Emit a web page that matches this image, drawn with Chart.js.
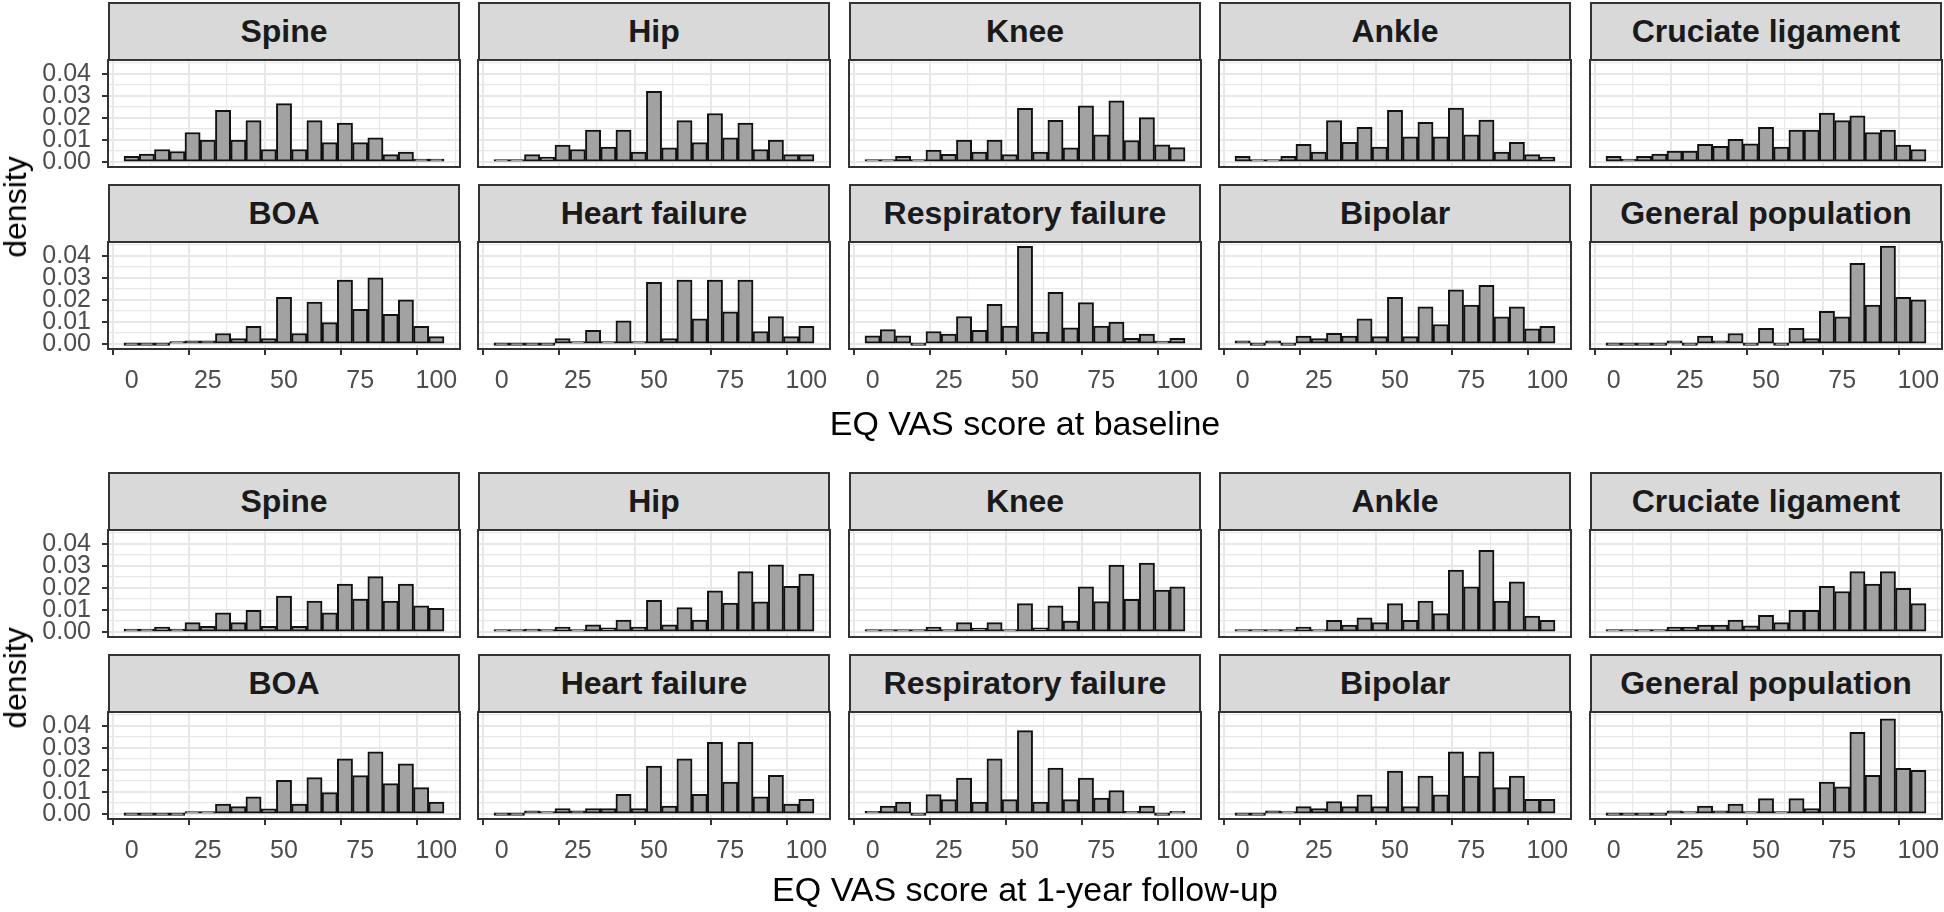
<!DOCTYPE html>
<html>
<head>
<meta charset="utf-8">
<script src="https://cdn.jsdelivr.net/npm/chart.js@4.4.1/dist/chart.umd.min.js"></script>
<style>
    body {
        margin: 0;
        width: 1944px;
        height: 912px;
        overflow: hidden;
        position: relative;
        background: #fff;
        font-family: "Liberation Sans", Arial, sans-serif;
    }
    canvas { position: absolute; }
    .strip {
        position: absolute;
        box-sizing: border-box;
        background: #d9d9d9;
        border: 2px solid #333;
        display: flex;
        align-items: center;
        justify-content: center;
        font-weight: bold;
        font-size: 32px;
        color: #1a1a1a;
        white-space: nowrap;
    }
    .xtitle {
        position: absolute;
        font-size: 34px;
        line-height: 34px;
        color: #000;
        white-space: nowrap;
        transform: translateX(-50%);
    }
    .ytitle {
        position: absolute;
        font-size: 32px;
        line-height: 32px;
        color: #000;
        white-space: nowrap;
        transform: translate(-50%, -50%) rotate(-90deg);
    }
</style>
</head>
<body>
<script>
// Bin centres (bin width 5) and axis ticks
const binCenters = [0, 5, 10, 15, 20, 25, 30, 35, 40, 45, 50, 55, 60, 65, 70, 75, 80, 85, 90, 95, 100];
const xMajorTicks = [0, 25, 50, 75, 100];
const xMinorTicks = [12.5, 37.5, 62.5, 87.5];
const yMajorTicks = [0, 0.01, 0.02, 0.03, 0.04];
const yTickLabels = ['0.00', '0.01', '0.02', '0.03', '0.04'];
const yMinorTicks = [0.005, 0.015, 0.025, 0.035, 0.045];

const facetNames = ['Spine', 'Hip', 'Knee', 'Ankle', 'Cruciate ligament',
    'BOA', 'Heart failure', 'Respiratory failure', 'Bipolar', 'General population'];
const xTitles = ['EQ VAS score at baseline', 'EQ VAS score at 1-year follow-up'];
const yTitle = 'density';

// Density per bin at baseline
const baseSpine = [0.0026, 0.0037, 0.0057, 0.0048, 0.0134, 0.0100, 0.0234, 0.0100, 0.0188, 0.0057, 0.0265, 0.0057, 0.0188, 0.0088, 0.0177, 0.0088, 0.0110, 0.0034, 0.0046, 0.0014, 0.0014];
const baseHip = [0.0010, 0.0010, 0.0034, 0.0023, 0.0077, 0.0057, 0.0145, 0.0068, 0.0145, 0.0045, 0.0320, 0.0065, 0.0188, 0.0088, 0.0220, 0.0110, 0.0177, 0.0057, 0.0100, 0.0034, 0.0034];
const baseKnee = [0.0009, 0.0009, 0.0026, 0.0009, 0.0054, 0.0035, 0.0100, 0.0045, 0.0100, 0.0034, 0.0243, 0.0045, 0.0189, 0.0065, 0.0255, 0.0123, 0.0277, 0.0098, 0.0201, 0.0078, 0.0066];
const baseAnkle = [0.0026, 0.0010, 0.0010, 0.0026, 0.0080, 0.0046, 0.0188, 0.0090, 0.0157, 0.0068, 0.0234, 0.0114, 0.0180, 0.0114, 0.0245, 0.0123, 0.0190, 0.0046, 0.0090, 0.0034, 0.0023];
const baseCruciate = [0.0026, 0.0014, 0.0026, 0.0037, 0.0050, 0.0050, 0.0080, 0.0072, 0.0103, 0.0083, 0.0157, 0.0068, 0.0145, 0.0145, 0.0222, 0.0188, 0.0210, 0.0134, 0.0145, 0.0077, 0.0057];
const baseBOA = [0, 0, 0, 0.0003, 0.0015, 0.0015, 0.0048, 0.0025, 0.0080, 0.0025, 0.0212, 0.0048, 0.0190, 0.0097, 0.0290, 0.0158, 0.0300, 0.0135, 0.0200, 0.0080, 0.0034];
const baseHeart = [0, 0, 0, 0, 0.0025, 0.0012, 0.0062, 0.0012, 0.0105, 0.0012, 0.0280, 0.0025, 0.0290, 0.0115, 0.0290, 0.0146, 0.0290, 0.0057, 0.0125, 0.0034, 0.0080];
const baseResp = [0.0038, 0.0066, 0.0038, 0, 0.0057, 0.0046, 0.0125, 0.0063, 0.0180, 0.0082, 0.0442, 0.0054, 0.0234, 0.0074, 0.0188, 0.0082, 0.0100, 0.0026, 0.0046, 0.0014, 0.0026];
const baseBipolar = [0.0015, 0, 0.0015, 0, 0.0037, 0.0025, 0.0049, 0.0037, 0.0115, 0.0034, 0.0212, 0.0034, 0.0169, 0.0089, 0.0246, 0.0177, 0.0266, 0.0123, 0.0169, 0.0069, 0.0080];
const baseGeneral = [0, 0, 0, 0, 0.0015, 0, 0.0037, 0.0015, 0.0048, 0, 0.0071, 0, 0.0071, 0.0025, 0.0148, 0.0123, 0.0366, 0.0177, 0.0443, 0.0212, 0.0200];

// Density per bin at 1-year follow-up
const fuSpine = [0.0014, 0.0014, 0.0023, 0.0014, 0.0043, 0.0026, 0.0087, 0.0043, 0.0099, 0.0026, 0.0163, 0.0026, 0.0141, 0.0087, 0.0217, 0.0149, 0.0251, 0.0141, 0.0217, 0.0119, 0.0108];
const fuHip = [0.0003, 0.0003, 0.0014, 0.0003, 0.0023, 0.0010, 0.0033, 0.0020, 0.0055, 0.0023, 0.0144, 0.0033, 0.0111, 0.0055, 0.0187, 0.0131, 0.0274, 0.0137, 0.0304, 0.0207, 0.0263];
const fuKnee = [0.0003, 0.0003, 0.0010, 0.0010, 0.0023, 0.0010, 0.0043, 0.0018, 0.0043, 0.0003, 0.0129, 0.0020, 0.0119, 0.0050, 0.0205, 0.0138, 0.0303, 0.0148, 0.0312, 0.0190, 0.0205];
const fuAnkle = [0.0002, 0.0002, 0.0012, 0.0003, 0.0023, 0.0012, 0.0053, 0.0032, 0.0065, 0.0043, 0.0129, 0.0053, 0.0141, 0.0084, 0.0281, 0.0205, 0.0370, 0.0141, 0.0228, 0.0073, 0.0053];
const fuCruciate = [0.0012, 0.0012, 0.0012, 0.0012, 0.0023, 0.0023, 0.0032, 0.0032, 0.0055, 0.0029, 0.0076, 0.0043, 0.0099, 0.0099, 0.0207, 0.0184, 0.0274, 0.0217, 0.0274, 0.0198, 0.0129];
const fuBOA = [0, 0, 0, 0, 0.0012, 0.0012, 0.0045, 0.0034, 0.0078, 0.0024, 0.0153, 0.0045, 0.0165, 0.0097, 0.0250, 0.0174, 0.0282, 0.0138, 0.0228, 0.0120, 0.0055];
const fuHeart = [0, 0, 0.0015, 0.0003, 0.0025, 0.0015, 0.0025, 0.0025, 0.0090, 0.0025, 0.0217, 0.0036, 0.0250, 0.0090, 0.0325, 0.0145, 0.0325, 0.0078, 0.0175, 0.0045, 0.0067];
const fuResp = [0.0013, 0.0036, 0.0055, 0, 0.0088, 0.0066, 0.0163, 0.0055, 0.0250, 0.0066, 0.0378, 0.0055, 0.0208, 0.0066, 0.0163, 0.0073, 0.0106, 0.0013, 0.0036, 0, 0.0013];
const fuBipolar = [0, 0, 0.0015, 0.0003, 0.0034, 0.0025, 0.0057, 0.0034, 0.0087, 0.0034, 0.0195, 0.0034, 0.0172, 0.0087, 0.0282, 0.0172, 0.0282, 0.0120, 0.0172, 0.0067, 0.0067];
const fuGeneral = [0, 0, 0, 0, 0.0015, 0.0002, 0.0036, 0.0015, 0.0045, 0.0002, 0.0070, 0.0002, 0.0070, 0.0025, 0.0145, 0.0123, 0.0370, 0.0175, 0.0431, 0.0207, 0.0198];

const baselineSeries = [baseSpine, baseHip, baseKnee, baseAnkle, baseCruciate,
    baseBOA, baseHeart, baseResp, baseBipolar, baseGeneral];
const followUpSeries = [fuSpine, fuHip, fuKnee, fuAnkle, fuCruciate,
    fuBOA, fuHeart, fuResp, fuBipolar, fuGeneral];

// Page layout (pixels)
const colLeft = [108, 478, 849, 1219, 1590];
const panelW = 352;
const panelH = 107;
const stripH = 58;
const stripTop = [[2, 184], [472, 654]];
const xTitleTop = [406, 872];
const yTitleCenter = [207, 678];

Chart.defaults.font.family = '"Liberation Sans", Arial, sans-serif';

// Draw the dark frame round each panel
const panelBorder = {
    id: 'panelBorder',
    afterDraw(chart) {
        const a = chart.chartArea;
        const ctx = chart.ctx;
        ctx.save();
        ctx.strokeStyle = '#333333';
        ctx.lineWidth = 2;
        ctx.strokeRect(a.left, a.top, a.right - a.left, a.bottom - a.top);
        ctx.restore();
    }
};

function addText(cls, text, left, top) {
    const el = document.createElement('div');
    el.className = cls;
    el.textContent = text;
    el.style.left = left + 'px';
    el.style.top = top + 'px';
    document.body.appendChild(el);
    return el;
}

function makePanel(sec, row, col, values) {
    const isLeft = col === 0;
    const isBottom = row === 1;
    const top = stripTop[sec][row];
    const plotTop = top + stripH;

    // facet strip
    const strip = addText('strip', facetNames[row * 5 + col], colLeft[col], top);
    strip.style.width = panelW + 'px';
    strip.style.height = (stripH + 1) + 'px';

    const padL = isLeft ? 108 : 2;
    const canvas = document.createElement('canvas');
    canvas.width = padL + panelW + 2;
    canvas.height = 2 + panelH + (isBottom ? 60 : 20);
    canvas.style.left = (colLeft[col] - padL) + 'px';
    canvas.style.top = (plotTop - 2) + 'px';
    document.body.appendChild(canvas);

    const xTicks = xMajorTicks.map(v => ({ value: v, major: true }))
        .concat(xMinorTicks.map(v => ({ value: v, major: false })))
        .sort((a, b) => a.value - b.value);
    const yTicks = yMajorTicks.map(v => ({ value: v, major: true }))
        .concat(yMinorTicks.map(v => ({ value: v, major: false })))
        .sort((a, b) => a.value - b.value);

    new Chart(canvas, {
        type: 'bar',
        data: {
            datasets: [{
                data: binCenters.map((b, i) => ({ x: b, y: values[i] })),
                backgroundColor: '#a2a2a2',
                borderColor: '#111111',
                borderWidth: 2,
                borderSkipped: false,
                barPercentage: 1,
                categoryPercentage: 1,
                minBarLength: 2.5
            }]
        },
        options: {
            responsive: false,
            animation: false,
            events: [],
            layout: { padding: { left: isLeft ? 0 : 2, top: 2, right: 2, bottom: isBottom ? 0 : 20 } },
            plugins: { legend: { display: false }, tooltip: { enabled: false } },
            scales: {
                x: {
                    type: 'linear',
                    min: -7.75,
                    max: 107.75,
                    bounds: 'data',
                    offset: false,
                    border: { display: false },
                    afterBuildTicks: s => { s.ticks = xTicks.map(t => ({ ...t })); },
                    afterFit: s => { s.height = isBottom ? 60 : 0; s.paddingLeft = 0; s.paddingRight = 0; },
                    grid: {
                        color: '#e8e8e8',
                        lineWidth: c => (c.tick && c.tick.major ? 2 : 1.2),
                        drawTicks: isBottom,
                        tickLength: 6,
                        tickWidth: 2,
                        tickColor: c => (c.tick && c.tick.major ? '#333333' : 'rgba(0,0,0,0)')
                    },
                    ticks: {
                        display: isBottom,
                        autoSkip: false,
                        maxRotation: 0,
                        padding: 11,
                        color: '#4d4d4d',
                        font: { size: 25 },
                        callback: v => (xMajorTicks.includes(v) ? String(v) : '')
                    }
                },
                y: {
                    min: -0.0022,
                    max: 0.0462,
                    bounds: 'data',
                    border: { display: false },
                    afterBuildTicks: s => { s.ticks = yTicks.map(t => ({ ...t })); },
                    afterFit: s => { s.width = isLeft ? 108 : 0; s.paddingTop = 0; s.paddingBottom = 0; },
                    grid: {
                        color: '#e8e8e8',
                        lineWidth: c => (c.tick && c.tick.major ? 2 : 1.2),
                        drawTicks: isLeft,
                        tickLength: 6,
                        tickWidth: 2,
                        tickColor: c => (c.tick && c.tick.major ? '#333333' : 'rgba(0,0,0,0)')
                    },
                    ticks: {
                        display: isLeft,
                        autoSkip: false,
                        padding: 11,
                        color: '#4d4d4d',
                        font: { size: 25 },
                        callback: v => {
                            const i = yMajorTicks.indexOf(v);
                            return i >= 0 ? yTickLabels[i] : '';
                        }
                    }
                }
            }
        },
        plugins: [panelBorder]
    });
}

// Build both sections: baseline on top, follow-up below
[baselineSeries, followUpSeries].forEach((series, sec) => {
    for (let row = 0; row < 2; row++) {
        for (let col = 0; col < 5; col++) {
            makePanel(sec, row, col, series[row * 5 + col]);
        }
    }
    addText('xtitle', xTitles[sec], 1025, xTitleTop[sec]);
    addText('ytitle', yTitle, 15, yTitleCenter[sec]);
});
</script>
</body>
</html>
